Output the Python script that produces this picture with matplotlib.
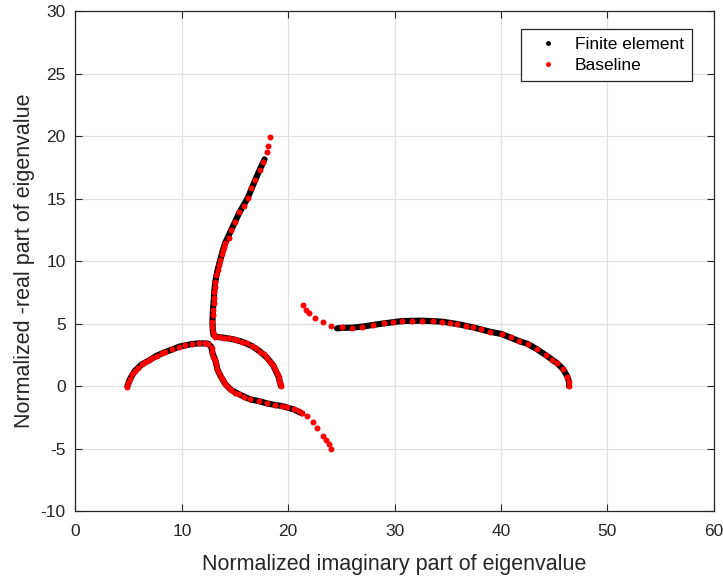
import numpy as np
import matplotlib.pyplot as plt
from matplotlib.lines import Line2D

plt.rcParams['font.family'] = ['Liberation Sans', 'DejaVu Sans']
plt.rcParams['axes.unicode_minus'] = False

# ---- Baseline (red dots) ----
# branch starting near (4.9, 0), rising, then turning down to (24, -5)
base_a_x = [4.88, 4.97, 5.10, 5.35, 5.60, 5.85, 6.23, 6.54, 6.92, 7.24, 7.64, 8.11, 8.43,
            9.12, 9.75, 10.31, 10.94, 11.57, 12.19, 12.44, 12.82, 12.88, 12.97, 13.14, 13.20,
            13.35, 13.51, 13.67, 13.86, 14.08, 14.33, 14.64, 14.96, 15.33, 15.80, 16.43,
            17.21, 18.00, 18.79, 19.41, 19.89, 20.51, 20.98, 21.30, 21.77, 22.33, 22.71,
            23.28, 23.59, 23.81, 24.06]
base_a_y = [-0.05, 0.27, 0.53, 0.93, 1.23, 1.47, 1.73, 1.89, 2.05, 2.21, 2.43, 2.61, 2.72,
            2.93, 3.15, 3.25, 3.36, 3.41, 3.41, 3.36, 3.07, 2.75, 2.35, 2.08, 1.76,
            1.33, 1.01, 0.75, 0.48, 0.16, -0.11, -0.32, -0.53, -0.64, -0.85, -1.07,
            -1.20, -1.39, -1.52, -1.60, -1.71, -1.87, -2.00, -2.19, -2.40, -2.91, -3.39,
            -3.97, -4.32, -4.64, -5.0]

# branch starting near (19.3, 0), going left to (13, 4) then up to (18.3, 20)
base_b_x = [19.32, 19.26, 19.16, 19.10, 18.94, 18.79, 18.57, 18.31, 18.00, 17.69, 17.37,
            17.00, 16.59, 16.12, 15.65, 15.18, 14.86, 14.39, 13.92, 13.61, 13.14, 12.98,
            12.92, 12.88, 12.88, 12.92, 12.92, 12.98, 13.01, 13.04, 13.11, 13.14, 13.23,
            13.36, 13.45, 13.61, 13.73, 13.86, 13.98, 14.08, 14.39, 14.64, 15.02, 15.42,
            15.80, 16.18, 16.53, 16.90, 17.31, 17.59, 17.97, 18.06, 18.25]
base_b_y = [0.0, 0.21, 0.43, 0.75, 1.01, 1.33, 1.68, 1.95, 2.27, 2.53, 2.75,
            3.01, 3.20, 3.41, 3.55, 3.68, 3.73, 3.81, 3.87, 3.89, 3.95, 4.08,
            4.35, 4.75, 5.15, 5.68, 6.08, 6.61, 7.01, 7.49, 7.95, 8.35, 8.88,
            9.28, 9.68, 10.08, 10.53, 10.88, 11.15, 11.45, 11.86, 12.48, 13.09, 13.89,
            14.43, 15.01, 15.87, 16.48, 17.28, 17.95, 18.69, 19.23, 19.89]

# branch starting near (46.4, 0), going left to (21.4, 6.5)
base_c_x = [46.40, 46.40, 46.25, 45.87, 45.31, 44.84, 44.21, 43.36, 42.54, 41.70, 40.91,
            40.07, 38.94, 38.15, 37.40, 36.68, 35.89, 35.26, 34.48, 33.63, 32.60, 31.66,
            30.71, 29.83, 28.98, 27.95, 26.95, 26.00, 25.06, 24.06, 23.24, 22.55, 21.99,
            21.67, 21.36]
base_c_y = [0.0, 0.35, 0.75, 1.33, 1.81, 2.08, 2.48, 2.96, 3.36, 3.60, 3.89,
            4.16, 4.35, 4.53, 4.69, 4.83, 4.96, 5.01, 5.15, 5.20, 5.23, 5.20,
            5.20, 5.09, 5.01, 4.88, 4.75, 4.67, 4.69, 4.80, 5.09, 5.47, 5.87,
            6.08, 6.48]

# ---- Finite element (black) ----
fe_a_x = [4.88, 5.10, 5.60, 6.23, 6.92, 7.64, 8.43, 9.12, 9.75, 10.31, 10.94, 11.57,
          12.19, 12.50, 12.75, 12.90, 13.14, 13.35, 13.67, 14.08, 14.64, 15.33, 16.43,
          17.21, 18.00, 18.79, 19.41, 20.51, 21.30]
fe_a_y = [0.0, 0.53, 1.23, 1.73, 2.05, 2.43, 2.72, 2.93, 3.15, 3.25, 3.36, 3.41,
          3.41, 3.38, 3.15, 2.60, 2.08, 1.33, 0.75, 0.16, -0.32, -0.64, -1.07,
          -1.20, -1.39, -1.52, -1.60, -1.87, -2.19]
fe_b_x = [19.32, 19.26, 19.10, 18.94, 18.57, 18.00, 17.37, 16.59, 15.65, 14.86, 13.92,
          13.30, 12.98, 12.92, 12.88, 12.92, 12.98, 13.04, 13.14, 13.36, 13.61, 13.86,
          14.08, 14.64, 15.42, 16.18, 16.90, 17.31, 17.78]
fe_b_y = [0.0, 0.21, 0.75, 1.01, 1.68, 2.27, 2.75, 3.20, 3.55, 3.73, 3.87,
          3.93, 4.08, 4.35, 5.15, 6.08, 6.61, 7.49, 8.35, 9.28, 10.08, 10.88,
          11.45, 12.48, 13.89, 15.01, 16.48, 17.28, 18.13]
fe_c_x = [46.40, 46.40, 46.25, 45.87, 45.31, 44.21, 43.36, 42.54, 41.70, 40.07, 38.94,
          37.40, 35.89, 34.48, 32.60, 30.71, 28.98, 27.95, 26.95, 26.00, 25.06, 24.59]
fe_c_y = [0.0, 0.35, 0.75, 1.33, 1.81, 2.48, 2.96, 3.36, 3.60, 4.16, 4.35,
          4.69, 4.96, 5.15, 5.23, 5.20, 5.01, 4.88, 4.75, 4.67, 4.65, 4.61]

fig = plt.figure(figsize=(7.23, 5.79), dpi=100)
ax = fig.add_axes([0.1044, 0.1174, 0.8826, 0.8636])

for fx, fy in [(fe_a_x, fe_a_y), (fe_b_x, fe_b_y), (fe_c_x, fe_c_y)]:
    ax.plot(fx, fy, '-', color='black', lw=4.4, solid_capstyle='round', zorder=2)
for bx, by in [(base_a_x, base_a_y), (base_b_x, base_b_y), (base_c_x, base_c_y)]:
    ax.plot(bx, by, 'o', color='#ff0000', ms=4.3, mec='none', zorder=3)

ax.set_xlim(0, 60)
ax.set_ylim(-10, 30)
ax.set_xticks(np.arange(0, 61, 10))
ax.set_yticks(np.arange(-10, 31, 5))
ax.grid(True, color='#e0e0e0', lw=0.9)
ax.set_axisbelow(True)
ax.tick_params(direction='in', length=5, width=0.8, colors='#262626', labelsize=12.5,
               top=True, right=True)
ax.tick_params(axis='x', pad=9)
ax.tick_params(axis='y', pad=7)
for s in ax.spines.values():
    s.set_color('#262626')
    s.set_linewidth(0.9)

ax.set_xlabel('Normalized imaginary part of eigenvalue', fontsize=15.5, color='#262626',
              labelpad=11)
ax.set_ylabel('Normalized -real part of eigenvalue', fontsize=15.5, color='#262626',
              labelpad=4)

handles = [Line2D([], [], ls='none', marker='.', color='black', ms=5),
           Line2D([], [], ls='none', marker='.', color='#ff0000', ms=5)]
leg = ax.legend(handles, ['Finite element', 'Baseline'], loc='upper right',
                bbox_to_anchor=(0.966, 0.964), borderaxespad=0, fontsize=12.5,
                fancybox=False, framealpha=1, edgecolor='#262626', handlelength=2.2,
                handletextpad=0.45, borderpad=0.45, labelspacing=0.35)
leg.get_frame().set_linewidth(0.9)

fig.savefig('out.png', dpi=100)
